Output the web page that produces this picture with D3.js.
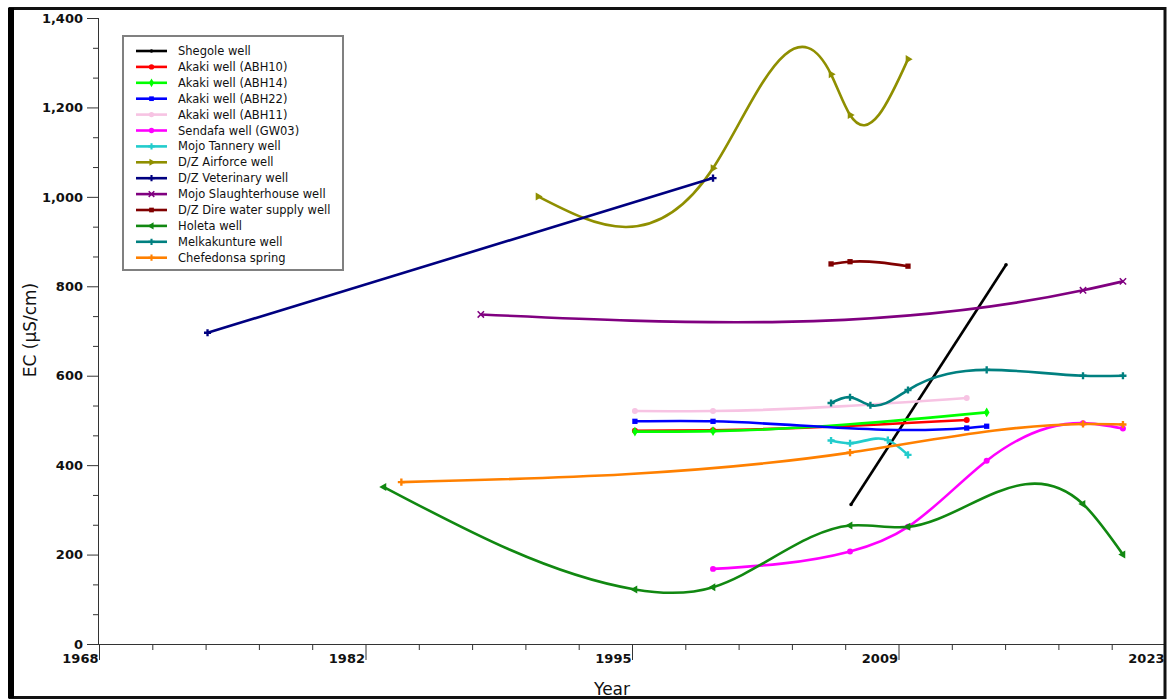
<!DOCTYPE html>
<html>
<head>
<meta charset="utf-8">
<script src="https://cdn.jsdelivr.net/npm/d3@7"></script>
<style>
  html, body { margin: 0; padding: 0; background: #ffffff; }
  svg { display: block; }
</style>
</head>
<body>
<svg id="chart" width="1167" height="700"></svg>
<script>
// ---------------- DATA ----------------
const seriesNames = [
  "Shegole well", "Akaki well (ABH10)", "Akaki well (ABH14)", "Akaki well (ABH22)",
  "Akaki well (ABH11)", "Sendafa well (GW03)", "Mojo Tannery well", "D/Z Airforce well",
  "D/Z Veterinary well", "Mojo Slaughterhouse well", "D/Z Dire water supply well",
  "Holeta well", "Melkakunture well", "Chefedonsa spring"
];
const seriesColors = [
  "#000000", "#ff0000", "#00ff00", "#0000ff", "#f7c3e3", "#ff00ff", "#22cccc",
  "#8f8f00", "#000080", "#800080", "#800000", "#118811", "#008080", "#ff8000"
];

const shegoleYears = [2006.8, 2014.8];
const shegoleEC    = [312, 848];
const abh10Years = [1995.65, 1999.68, 2012.77];
const abh10EC    = [477, 478, 501];
const abh14Years = [1995.65, 1999.68, 2013.8];
const abh14EC    = [475, 476, 518];
const abh22Years = [1995.65, 1999.68, 2012.77, 2013.8];
const abh22EC    = [498, 498, 483, 487];
const abh11Years = [1995.65, 1999.68, 2012.77];
const abh11EC    = [521, 521, 550];
const sendafaYears = [1999.68, 2006.75, 2009.74, 2013.8, 2018.77, 2020.83];
const sendafaEC    = [168, 207, 262, 410, 494, 482];
const tanneryYears = [2005.77, 2006.75, 2008.7, 2009.74];
const tanneryEC    = [455, 449, 456, 423];
const airforceYears = [1990.65, 1999.68, 2005.77, 2006.75, 2009.74];
const airforceEC    = [1001, 1064, 1274, 1183, 1308];
const veterinaryYears = [1973.6, 1999.68];
const veterinaryEC    = [696, 1042];
const slaughterYears = [1987.7, 2018.77, 2020.83];
const slaughterEC    = [737, 791, 811];
const direYears = [2005.77, 2006.75, 2009.74];
const direEC    = [850, 855, 845];
const holetaYears = [1982.7, 1995.65, 1999.68, 2006.75, 2009.74, 2018.77, 2020.83];
const holetaEC    = [351, 122, 127, 265, 262, 313, 200];
const melkaYears = [2005.77, 2006.75, 2007.8, 2009.74, 2013.8, 2018.77, 2020.83];
const melkaEC    = [539, 552, 534, 568, 613, 600, 600];
const chefedonsaYears = [1983.6, 2006.75, 2018.77, 2020.83];
const chefedonsaEC    = [362, 428, 492, 491];

const xTickLabels = ["1968", "1982", "1995", "2009", "2023"];
const yTickValues = [0, 200, 400, 600, 800, 1000, 1200, 1400];

const seriesYears = [shegoleYears, abh10Years, abh14Years, abh22Years, abh11Years, sendafaYears,
  tanneryYears, airforceYears, veterinaryYears, slaughterYears, direYears, holetaYears,
  melkaYears, chefedonsaYears];
const seriesEC = [shegoleEC, abh10EC, abh14EC, abh22EC, abh11EC, sendafaEC, tanneryEC,
  airforceEC, veterinaryEC, slaughterEC, direEC, holetaEC, melkaEC, chefedonsaEC];

// ---------------- NATURAL SPLINE (x-parameterised) CURVE ----------------
function NaturalX(context) { this._context = context; }
NaturalX.prototype = {
  areaStart() {}, areaEnd() {},
  lineStart() { this._x = []; this._y = []; },
  point(px, py) { this._x.push(+px); this._y.push(+py); },
  lineEnd() {
    const X = this._x, Y = this._y, n = X.length, c = this._context;
    if (!n) return;
    c.moveTo(X[0], Y[0]);
    if (n === 1) return;
    if (n === 2) { c.lineTo(X[1], Y[1]); return; }
    const h = [], d = [];
    for (let i = 0; i < n - 1; i++) { h[i] = X[i + 1] - X[i]; d[i] = (Y[i + 1] - Y[i]) / h[i]; }
    const M = new Array(n).fill(0);
    const m = n - 2, cp = [], rp = [];
    for (let k = 0; k < m; k++) {
      const i = k + 1, a = h[i - 1], b = 2 * (h[i - 1] + h[i]), cc = h[i], r = 6 * (d[i] - d[i - 1]);
      if (k === 0) { cp[k] = cc / b; rp[k] = r / b; }
      else { const den = b - a * cp[k - 1]; cp[k] = cc / den; rp[k] = (r - a * rp[k - 1]) / den; }
    }
    for (let k = m - 1; k >= 0; k--) M[k + 1] = rp[k] - (k < m - 1 ? cp[k] * M[k + 2] : 0);
    const s = [];
    for (let i = 0; i < n - 1; i++) s[i] = d[i] - h[i] * (2 * M[i] + M[i + 1]) / 6;
    s[n - 1] = d[n - 2] + h[n - 2] * (M[n - 2] + 2 * M[n - 1]) / 6;
    for (let i = 0; i < n - 1; i++) {
      const hh = h[i] / 3;
      c.bezierCurveTo(X[i] + hh, Y[i] + s[i] * hh, X[i + 1] - hh, Y[i + 1] - s[i + 1] * hh, X[i + 1], Y[i + 1]);
    }
  }
};
const curveNaturalX = ctx => new NaturalX(ctx);

// ---------------- CHART ----------------
const svg = d3.select("#chart");
const W = 1167, H = 700;
const plot = { left: 99, right: 1165, top: 18, bottom: 644 };

svg.append("rect").attr("x", 0).attr("y", 0).attr("width", W).attr("height", H).attr("fill", "#fff");

const x = d3.scaleLinear().domain([1968, 2023]).range([plot.left, plot.right]);
const y = d3.scaleLinear().domain([0, 1400]).range([plot.bottom, plot.top]);

const axisColor = "#333";
const tickFont = "DejaVu Sans, Verdana, sans-serif";

// x axis
const xMajor = d3.range(5).map(i => 1968 + i * 13.75);
const xMinor = d3.range(21).map(i => 1968 + i * 2.75).filter((v, i) => i % 5 !== 0);
const gxMinor = svg.append("g").attr("transform", `translate(0,${plot.bottom})`)
  .call(d3.axisBottom(x).tickValues(xMinor).tickSize(6).tickFormat(""));
const gx = svg.append("g").attr("transform", `translate(0,${plot.bottom})`)
  .call(d3.axisBottom(x).tickValues(xMajor).tickSize(16).tickPadding(0)
    .tickFormat((d, i) => xTickLabels[i]));
gx.selectAll("text").attr("text-anchor", "end").attr("x", -1).attr("y", 10).attr("dy", "0.71em")
  .style("font-family", tickFont).style("font-weight", "bold").style("font-size", "13px").attr("fill", "#111");

// y axis
const yMinor = d3.range(22).map(i => i * 200 / 3).filter((v, i) => i % 3 !== 0);
const gyMinor = svg.append("g").attr("transform", `translate(${plot.left},0)`)
  .call(d3.axisLeft(y).tickValues(yMinor).tickSize(6).tickFormat(""));
const gy = svg.append("g").attr("transform", `translate(${plot.left},0)`)
  .call(d3.axisLeft(y).tickValues(yTickValues).tickSize(12).tickPadding(4).tickFormat(d3.format(",")));
gy.selectAll("text").style("font-family", tickFont).style("font-weight", "bold").style("font-size", "13px")
  .attr("fill", "#111");

[gx, gxMinor, gy, gyMinor].forEach(g => {
  g.selectAll("line").attr("stroke", axisColor);
  g.select(".domain").attr("stroke", axisColor);
});
gxMinor.select(".domain").remove();
gyMinor.select(".domain").remove();
gx.select(".domain").attr("d", `M${plot.left},0.5H${plot.right}`);
gy.select(".domain").attr("d", `M-0.5,${plot.top}V${plot.bottom}`);

// axis titles
svg.append("text").attr("x", 612).attr("y", 695).attr("text-anchor", "middle")
  .style("font-family", tickFont).style("font-size", "17px").attr("fill", "#111").text("Year");
svg.append("text").attr("transform", "translate(36,330) rotate(-90)").attr("text-anchor", "middle")
  .style("font-family", tickFont).style("font-size", "17px").attr("fill", "#111").text("EC (µS/cm)");

// symbols
const timesSym = d3.symbolTimes || d3.symbolX || d3.symbolCross;
const seriesSymbols = [d3.symbolCircle, d3.symbolCircle, d3.symbolDiamond, d3.symbolSquare,
  d3.symbolCircle, d3.symbolCircle, d3.symbolCross, d3.symbolTriangle, d3.symbolCross,
  timesSym, d3.symbolSquare, d3.symbolTriangle, d3.symbolCross, d3.symbolCross];
const strokeSymbols = new Set([9]);

const line = d3.line().x(p => x(p[0])).y(p => y(p[1])).curve(curveNaturalX);

const gLines = svg.append("g");
seriesNames.forEach((name, si) => {
  const pts = seriesYears[si].map((yr, k) => [yr, seriesEC[si][k]]);
  const g = gLines.append("g");
  g.append("path").attr("d", line(pts)).attr("fill", "none")
    .attr("stroke", seriesColors[si]).attr("stroke-width", 2.6).attr("stroke-linejoin", "round");
  const sym = d3.symbol().type(seriesSymbols[si]).size(si === 0 ? 10 : 28);
  g.selectAll("path.mk").data(pts).join("path").attr("class", "mk")
    .attr("transform", p => `translate(${x(p[0])},${y(p[1])})` + (si === 11 ? " rotate(-90)" : si === 7 ? " rotate(90)" : ""))
    .attr("d", sym)
    .attr("fill", strokeSymbols.has(si) ? "none" : seriesColors[si])
    .attr("stroke", strokeSymbols.has(si) ? seriesColors[si] : "none")
    .attr("stroke-width", 1.5);
});

// legend
const legend = svg.append("g");
legend.append("rect").attr("x", 123).attr("y", 36).attr("width", 220).attr("height", 234)
  .attr("fill", "#fff").attr("stroke", "#808080").attr("stroke-width", 2);
seriesNames.forEach((name, si) => {
  const ry = 51 + si * 15.9;
  legend.append("line").attr("x1", 136).attr("x2", 167).attr("y1", ry).attr("y2", ry)
    .attr("stroke", seriesColors[si]).attr("stroke-width", 2.6);
  legend.append("path")
    .attr("transform", `translate(151.5,${ry})` + (si === 11 ? " rotate(-90)" : si === 7 ? " rotate(90)" : ""))
    .attr("d", d3.symbol().type(seriesSymbols[si]).size(si === 0 ? 10 : 22))
    .attr("fill", strokeSymbols.has(si) ? "none" : seriesColors[si])
    .attr("stroke", strokeSymbols.has(si) ? seriesColors[si] : "none").attr("stroke-width", 1.5);
  legend.append("text").attr("x", 178).attr("y", ry).attr("dy", "0.35em")
    .style("font-family", tickFont).style("font-size", "11.5px").attr("fill", "#111").text(name);
});

// outer frame
svg.append("rect").attr("x", 10).attr("y", 8.5).attr("width", 1155).attr("height", 689)
  .attr("fill", "none").attr("stroke", "#111").attr("stroke-width", 3);
svg.append("rect").attr("x", 8).attr("y", 8).attr("width", 6).attr("height", 690).attr("fill", "#000");
</script>
</body>
</html>
